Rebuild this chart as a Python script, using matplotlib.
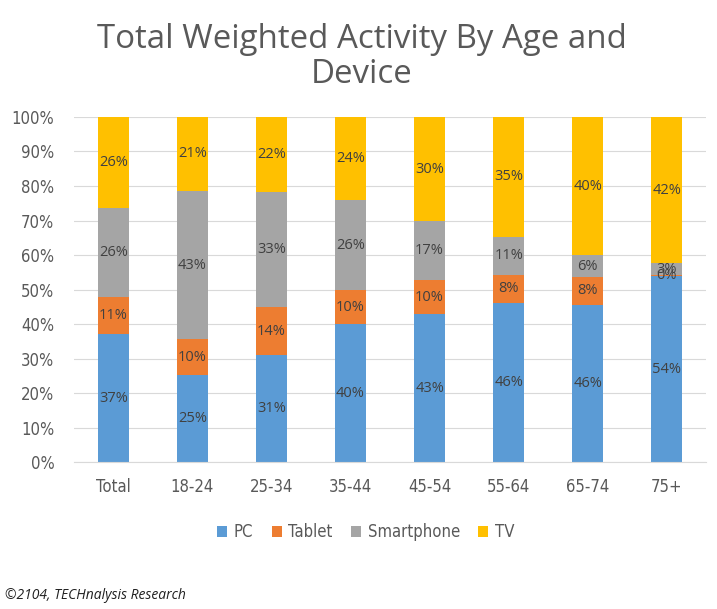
import matplotlib
matplotlib.use("Agg")
import matplotlib.pyplot as plt
from matplotlib import font_manager
import numpy as np

categories = ["Total", "18-24", "25-34", "35-44", "45-54", "55-64", "65-74", "75+"]
pc = [37.0, 25.2, 31.0, 40.0, 42.8, 46.2, 45.6, 53.8]
tablet = [10.8, 10.4, 14.0, 9.8, 10.0, 8.1, 8.1, 0.4]
smartphone = [25.8, 43.0, 33.2, 26.0, 17.0, 11.0, 6.2, 3.4]
tv = [26.4, 21.4, 21.8, 24.2, 30.2, 34.7, 40.1, 42.4]
series_names = ["PC", "Tablet", "Smartphone", "TV"]
colors = ["#5B9BD5", "#ED7D31", "#A5A5A5", "#FFC000"]

fonts = {(f.name, f.stretch) for f in font_manager.fontManager.ttflist}
names = {f.name for f in font_manager.fontManager.ttflist}
if "Liberation Sans Narrow" in names:
    narrow_prop = dict(family="Liberation Sans Narrow")
elif ("DejaVu Sans", "condensed") in fonts or ("DejaVu Sans", "semi-condensed") in fonts:
    narrow_prop = dict(family="DejaVu Sans", stretch="condensed")
else:
    narrow_prop = dict(family="Liberation Sans")

fig = plt.figure(figsize=(7.17, 6.09), dpi=100)
ax = fig.add_axes([0.103, 0.241, 0.882, 0.567])

x = np.arange(len(categories))
bottom = np.zeros(len(categories))
handles = []
for name, vals, c in zip(series_names, [pc, tablet, smartphone, tv], colors):
    vals = np.array(vals)
    h = ax.bar(x, vals, bottom=bottom, width=0.39, color=c, label=name, zorder=3)
    handles.append(h)
    for xi, b, v in zip(x, bottom, vals):
        ax.text(xi, b + v / 2, f"{v:.0f}%", ha="center", va="center",
                fontsize=10.5, color="#404040", family="Open Sans", zorder=4)
    bottom += vals

ax.set_xlim(-0.5, len(categories) - 0.5)
ax.set_ylim(0, 100)
ax.set_yticks(np.arange(0, 101, 10))
ax.set_yticklabels([f"{t}%" for t in range(0, 101, 10)])
ax.set_xticks(x)
ax.set_xticklabels(categories)
for lab in ax.get_xticklabels() + ax.get_yticklabels():
    lab.set_fontproperties(font_manager.FontProperties(size=12, **narrow_prop))
    lab.set_color("#595959")
ax.tick_params(axis="both", length=0)
ax.tick_params(axis="x", pad=11)
ax.tick_params(axis="y", pad=14)
ax.grid(axis="y", color="#D9D9D9", linewidth=0.8, zorder=0)
for s in ["top", "right", "left"]:
    ax.spines[s].set_visible(False)
ax.spines["bottom"].set_color("#D9D9D9")
ax.spines["bottom"].set_zorder(5)

fig.text(0.505, 0.906, "Total Weighted Activity By Age and\nDevice", ha="center", va="center",
         fontsize=23.8, color="#595959", family="Open Sans", linespacing=1.08)

leg = fig.legend(handles=handles, labels=series_names, loc="center", bbox_to_anchor=(0.51, 0.126),
                 ncol=4, frameon=False, handlelength=0.6, handleheight=0.6, handletextpad=0.4,
                 columnspacing=1.1, prop=font_manager.FontProperties(size=12, **narrow_prop))
for t in leg.get_texts():
    t.set_color("#595959")

fig.text(0.007, 0.022, "\u00a92104, TECHnalysis Research", ha="left", va="center",
         fontsize=10, style="italic", color="#202020", family="Open Sans")

fig.savefig("out.png", dpi=100, facecolor="white")
